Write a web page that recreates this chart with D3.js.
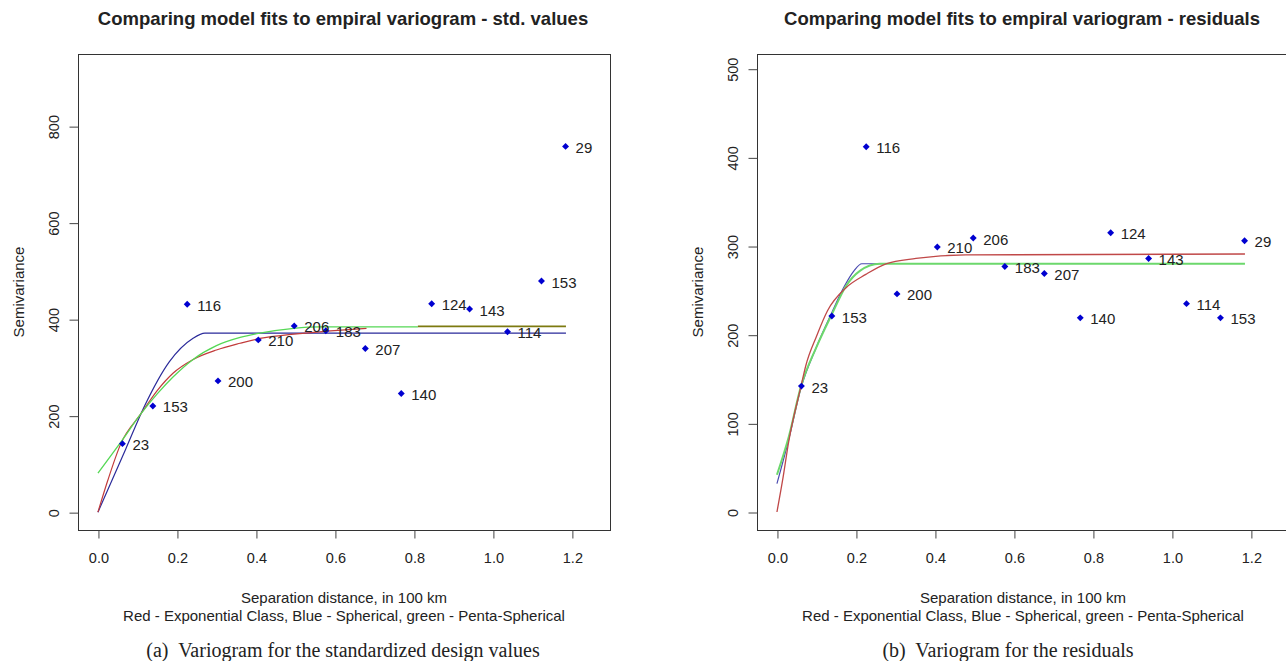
<!DOCTYPE html>
<html>
<head>
<meta charset="utf-8">
<script src="https://cdn.jsdelivr.net/npm/d3@7"></script>
<style>
  body { margin: 0; background: #fff; }
  text { font-family: "Liberation Sans", Arial, sans-serif; fill: #222; }
  .caption { font-family: "Liberation Serif", "Times New Roman", serif; white-space: pre; }
</style>
</head>
<body>
<div id="chart"></div>
<script>
/////// DATA

// lag distances (100 km) and number of pairs per bin, same for both panels
const dist = [0.062, 0.139, 0.226, 0.304, 0.406, 0.497, 0.577, 0.677, 0.768, 0.845, 0.941, 1.037, 1.123, 1.184];
const npairs = [23, 153, 116, 200, 210, 206, 183, 207, 140, 124, 143, 114, 153, 29];

// empirical semivariance
const gammaStd = [142, 220, 431, 272, 357, 386, 376, 339, 246, 432, 421, 374, 479, 758];
const gammaRes = [142, 221, 412, 246, 299, 309, 277, 269, 219, 315, 286, 235, 219, 306];

// fitted model curves, [distance, semivariance]
const redStd = [[0, 0], [0.025, 66], [0.058, 142], [0.109, 204], [0.15, 252], [0.19, 288], [0.24, 316], [0.3, 336], [0.36, 350], [0.41, 360], [0.497, 369], [0.58, 375], [0.68, 381]];
const blueStd = [[0, 0], [0.071, 132], [0.118, 220], [0.181, 312], [0.24, 360], [0.271, 371], [1.185, 371]];
const greenStd = [[0, 81], [0.062, 150], [0.109, 204], [0.15, 245], [0.19, 280], [0.24, 316], [0.3, 345], [0.36, 362], [0.41, 371], [0.496, 381], [0.56, 384], [0.81, 384]];
const oliveStd = [[0.81, 385], [1.185, 385]]; // where red and green lie on top of each other

const redRes = [[0, 0], [0.014, 35], [0.03, 80], [0.061, 142], [0.073, 165], [0.1, 198], [0.128, 227], [0.175, 253], [0.225, 268], [0.276, 280], [0.352, 286], [0.478, 290], [1.185, 291]];
const blueRes = [[0, 32], [0.03, 82], [0.061, 140], [0.1, 186], [0.138, 224], [0.17, 254], [0.195, 272], [0.215, 280], [0.27, 280]];
const greenRes = [[0, 42], [0.03, 85], [0.061, 142], [0.1, 186], [0.138, 222], [0.175, 255], [0.21, 272], [0.26, 280], [1.185, 280]];

const xTicks = [0, 0.2, 0.4, 0.6, 0.8, 1.0, 1.2];
const yTicksStd = [0, 200, 400, 600, 800];
const yTicksRes = [0, 100, 200, 300, 400, 500];

const xLabel = "Separation distance, in 100 km";
const xLabel2 = "Red - Exponential Class, Blue - Spherical, green - Penta-Spherical";

/////// DRAW

const width = 1286, height = 661;

const svg = d3.select("#chart")
  .append("svg")
  .attr("width", width)
  .attr("height", height);

const panels = [
  {
    left: 78, right: 610, title: "Comparing model fits to empiral variogram - std. values",
    ydom: [-37, 949.5], yTicks: yTicksStd, gamma: gammaStd,
    caption: "(a)  Variogram for the standardized design values", capX: 343,
    lines: [
      { pts: blueStd, col: "#2a2a9a", w: 1.2 },
      { pts: redStd, col: "#c23b3b", w: 1.2 },
      { pts: greenStd, col: "#55d855", w: 1.3 },
      { pts: oliveStd, col: "#7d7a10", w: 1.6 }
    ]
  },
  {
    left: 757, right: 1289, title: "Comparing model fits to empiral variogram - residuals",
    ydom: [-20.3, 516.6], yTicks: yTicksRes, gamma: gammaRes,
    caption: "(b)  Variogram for the residuals", capX: 1008,
    lines: [
      { pts: blueRes, col: "#4a4ab0", w: 1.2 },
      { pts: greenRes, col: "#6cd86c", w: 2 },
      { pts: redRes, col: "#c04848", w: 1.3 }
    ]
  }
];

const plotTop = 54, plotBottom = 530;

panels.forEach(p => {
  const g = svg.append("g");

  const x = d3.scaleLinear().domain([-0.0505, 1.2965]).range([p.left, p.right]);
  const y = d3.scaleLinear().domain(p.ydom).range([plotBottom, plotTop]);

  // box
  g.append("rect")
    .attr("x", p.left + 0.5).attr("y", plotTop + 0.5)
    .attr("width", p.right - p.left).attr("height", plotBottom - plotTop)
    .attr("fill", "none").attr("stroke", "#333").attr("stroke-width", 1);

  // x axis
  const xAxis = d3.axisBottom(x).tickValues(xTicks).tickFormat(d3.format(".1f"))
    .tickSize(8).tickPadding(14);
  const gx = g.append("g").attr("transform", `translate(0.5,${plotBottom + 0.5})`).call(xAxis);
  gx.select(".domain").remove();
  gx.selectAll("line").attr("stroke", "#444");
  gx.selectAll("text").style("font-size", "14.5px").attr("fill", "#222");

  // y axis, rotated labels like R
  const yAxis = d3.axisLeft(y).tickValues(p.yTicks).tickSize(9).tickFormat(d3.format("d"));
  const gy = g.append("g").attr("transform", `translate(${p.left + 0.5},0.5)`).call(yAxis);
  gy.select(".domain").remove();
  gy.selectAll("line").attr("stroke", "#444");
  gy.selectAll("text")
    .style("font-size", "14.5px").attr("fill", "#222")
    .attr("x", 0).attr("dy", null)
    .attr("text-anchor", "middle")
    .attr("dominant-baseline", "central")
    .attr("transform", "translate(-25,0) rotate(-90)");

  // titles and labels
  const cx = (p.left + p.right) / 2;
  g.append("text").attr("x", cx - 1).attr("y", 25)
    .attr("text-anchor", "middle").style("font-size", "18.5px").style("font-weight", "bold")
    .attr("fill", "#111").text(p.title);

  g.append("text")
    .attr("transform", `translate(${p.left - 60},${(plotTop + plotBottom) / 2}) rotate(-90)`)
    .attr("text-anchor", "middle").attr("dominant-baseline", "central")
    .style("font-size", "15px").text("Semivariance");

  g.append("text").attr("x", cx).attr("y", 603)
    .attr("text-anchor", "middle").style("font-size", "15px").text(xLabel);
  g.append("text").attr("x", cx).attr("y", 621)
    .attr("text-anchor", "middle").style("font-size", "15px").text(xLabel2);

  g.append("text").attr("class", "caption").attr("x", p.capX).attr("y", 657)
    .attr("text-anchor", "middle").style("font-size", "20px").attr("fill", "#000")
    .text(p.caption);

  // model curves
  const line = d3.line().x(d => x(d[0])).y(d => y(d[1])).curve(d3.curveMonotoneX);
  p.lines.forEach(l => {
    g.append("path").datum(l.pts)
      .attr("d", line)
      .attr("fill", "none")
      .attr("stroke", l.col)
      .attr("stroke-width", l.w);
  });

  // empirical points with pair counts
  const pts = dist.map((d, i) => ({ h: d, v: p.gamma[i], n: npairs[i] }));

  g.selectAll(".pt").data(pts).join("path")
    .attr("class", "pt")
    .attr("d", d3.symbol(d3.symbolSquare, 24))
    .attr("transform", d => `translate(${x(d.h)},${y(d.v)}) rotate(45)`)
    .attr("fill", "#0000d0");

  g.selectAll(".lab").data(pts).join("text")
    .attr("class", "lab")
    .attr("x", d => x(d.h) + 10)
    .attr("y", d => y(d.v) + 1)
    .attr("dominant-baseline", "central")
    .style("font-size", "15px")
    .text(d => d.n);
});
</script>
</body>
</html>
